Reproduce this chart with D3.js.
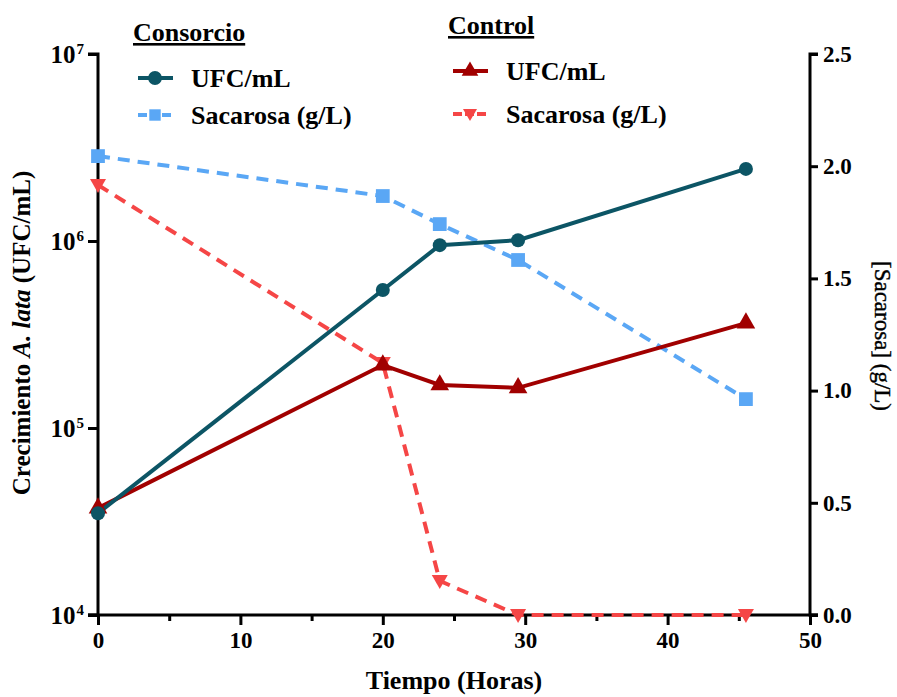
<!DOCTYPE html>
<html>
<head>
<meta charset="utf-8">
<script src="https://cdn.jsdelivr.net/npm/d3@7"></script>
<style>
body { margin: 0; background: #fff; }
text { font-family: "Liberation Serif", "Times New Roman", serif; }
</style>
</head>
<body>
<script>
// tiempo (horas)
const horas = [0, 20, 24, 29.5, 45.5];

// consorcio
const ufcConsorcio = [35000, 547000, 950000, 1010000, 2430000];
const sacConsorcio = [2.045, 1.867, 1.742, 1.582, 0.962];

// control
const ufcControl = [37300, 217000, 170000, 164000, 364000];
const sacControl = [1.916, 1.123, 0.152, 0.0, 0.0];

const xTicks = [0, 10, 20, 30, 40, 50];
const xMinor = [5, 15, 25, 35, 45];
const yLogTicks = [1e4, 1e5, 1e6, 1e7];
const yRightTicks = [0, 0.5, 1.0, 1.5, 2.0, 2.5];

const width = 897, height = 697;
const m = { left: 98, right: 87, top: 54, bottom: 82 };

const cTeal = '#0c5565', cBlue = '#5aa7f5', cDark = '#a10000', cRed = '#f54646';

const svg = d3.select('body').append('svg').attr('width', width).attr('height', height);

const x = d3.scaleLinear().domain([0, 50]).range([m.left, width - m.right]);
const yL = d3.scaleLog().domain([1e4, 1e7]).range([height - m.bottom, m.top]);
const yR = d3.scaleLinear().domain([0, 2.5]).range([height - m.bottom, m.top]);

// ejes
const axX = svg.append('g').attr('transform', 'translate(0,' + (height - m.bottom) + ')')
	.call(d3.axisBottom(x).tickValues(xTicks).tickSize(10).tickPadding(7).tickFormat(d3.format('d')));
svg.append('g').attr('transform', 'translate(0,' + (height - m.bottom) + ')')
	.call(d3.axisBottom(x).tickValues(xMinor).tickSize(6).tickFormat(''))
	.call(g => g.select('.domain').remove());

const axL = svg.append('g').attr('transform', 'translate(' + m.left + ',0)')
	.call(d3.axisLeft(yL).tickValues(yLogTicks).tickSize(10).tickFormat(''));
const axR = svg.append('g').attr('transform', 'translate(' + (width - m.right) + ',0)')
	.call(d3.axisRight(yR).tickValues(yRightTicks).tickSize(8).tickPadding(5).tickFormat(d3.format('.1f')));

svg.selectAll('.domain').attr('stroke', '#000').attr('stroke-width', 3);
svg.selectAll('.tick line').attr('stroke', '#000').attr('stroke-width', 3);
svg.selectAll('.tick text').attr('fill', '#000').attr('font-size', 23).attr('font-weight', 'bold')
	.style('font-family', '"Liberation Serif", serif');
axX.selectAll('.domain').attr('d', 'M' + (m.left - 10) + ',0H' + (width - m.right + 8));
axL.selectAll('.domain').attr('d', 'M-10,' + (height - m.bottom) + 'H0V' + m.top + 'H-10');
axR.selectAll('.domain').attr('d', 'M8,' + (height - m.bottom) + 'H0V' + m.top + 'H8');

// etiquetas log con superindice
axL.selectAll('.tick').append('text')
	.attr('x', -14).attr('y', 8).attr('text-anchor', 'end')
	.attr('font-size', 25).attr('font-weight', 'bold').attr('fill', '#000')
	.each(function(d) {
		let t = d3.select(this);
		t.append('tspan').text('10');
		t.append('tspan').attr('font-size', 15).attr('dx', 1).attr('dy', -9).text(Math.round(Math.log10(d)));
	});

// titulos de ejes
svg.append('text').attr('x', x(25)).attr('y', 689).attr('text-anchor', 'middle')
	.attr('font-size', 26).attr('font-weight', 'bold').text('Tiempo (Horas)');

const tl = svg.append('text').attr('transform', 'translate(30,' + 333 + ') rotate(-90)')
	.attr('text-anchor', 'middle').attr('font-size', 25).attr('font-weight', 'bold');
tl.append('tspan').text('Crecimiento ');
tl.append('tspan').attr('font-style', 'italic').text('A. lata');
tl.append('tspan').text(' (UFC/mL)');

svg.append('text').attr('transform', 'translate(875,' + 336 + ') rotate(90)')
	.attr('text-anchor', 'middle').attr('font-size', 23).attr('stroke', '#000').attr('stroke-width', 0.4)
	.text('[Sacarosa] (g/L)');

// series
const plot = svg.append('g');
const pts = (vals, ys) => horas.map((h, i) => [x(h), ys(vals[i])]);
const line = d3.line();

plot.append('path').attr('d', line(pts(sacConsorcio, yR))).attr('fill', 'none')
	.attr('stroke', cBlue).attr('stroke-width', 4).attr('stroke-dasharray', '12,8');
plot.append('path').attr('d', line(pts(sacControl, yR))).attr('fill', 'none')
	.attr('stroke', cRed).attr('stroke-width', 4).attr('stroke-dasharray', '12,8');
plot.append('path').attr('d', line(pts(ufcControl, yL))).attr('fill', 'none')
	.attr('stroke', cDark).attr('stroke-width', 4);
plot.append('path').attr('d', line(pts(ufcConsorcio, yL))).attr('fill', 'none')
	.attr('stroke', cTeal).attr('stroke-width', 4);

const sym = (type, size) => d3.symbol().type(type).size(size)();
const triDown = 'M-8,-6L8,-6L0,8Z';

plot.selectAll('.sq').data(pts(sacConsorcio, yR)).join('path').attr('class', 'sq')
	.attr('transform', d => 'translate(' + d + ')').attr('d', sym(d3.symbolSquare, 190)).attr('fill', cBlue);
plot.selectAll('.td').data(pts(sacControl, yR)).join('path').attr('class', 'td')
	.attr('transform', d => 'translate(' + d + ')').attr('d', triDown).attr('fill', cRed);
plot.selectAll('.tu').data(pts(ufcControl, yL)).join('path').attr('class', 'tu')
	.attr('transform', d => 'translate(' + d + ')').attr('d', sym(d3.symbolTriangle, 150)).attr('fill', cDark);
plot.selectAll('.ci').data(pts(ufcConsorcio, yL)).join('circle').attr('class', 'ci')
	.attr('cx', d => d[0]).attr('cy', d => d[1]).attr('r', 7).attr('fill', cTeal);

// leyendas
const legend = (x0, y0, title, rows, gap, items) => {
	const g = svg.append('g');
	g.append('text').attr('x', x0).attr('y', y0).attr('font-size', 26).attr('font-weight', 'bold')
		.attr('text-decoration', 'underline').text(title);
	items.forEach((it, i) => {
		let yy = rows + i * gap;
		g.append('line').attr('x1', x0 + 5).attr('x2', x0 + 40).attr('y1', yy).attr('y2', yy)
			.attr('stroke', it.color).attr('stroke-width', 4).attr('stroke-dasharray', it.dash || null);
		g.append('path').attr('transform', 'translate(' + (x0 + 22) + ',' + yy + ')')
			.attr('d', it.mark).attr('fill', it.color);
		g.append('text').attr('x', x0 + 58).attr('y', yy + 9).attr('font-size', 26).attr('font-weight', 'bold').text(it.label);
	});
};
legend(133, 41, 'Consorcio', 78, 37, [
	{ color: cTeal, mark: sym(d3.symbolCircle, 150), label: 'UFC/mL' },
	{ color: cBlue, mark: sym(d3.symbolSquare, 130), label: 'Sacarosa (g/L)', dash: '9,3' }
]);
legend(448, 34, 'Control', 71, 43, [
	{ color: cDark, mark: sym(d3.symbolTriangle, 120), label: 'UFC/mL' },
	{ color: cRed, mark: 'M-7,-5L7,-5L0,7Z', label: 'Sacarosa (g/L)', dash: '9,3' }
]);
</script>
</body>
</html>
